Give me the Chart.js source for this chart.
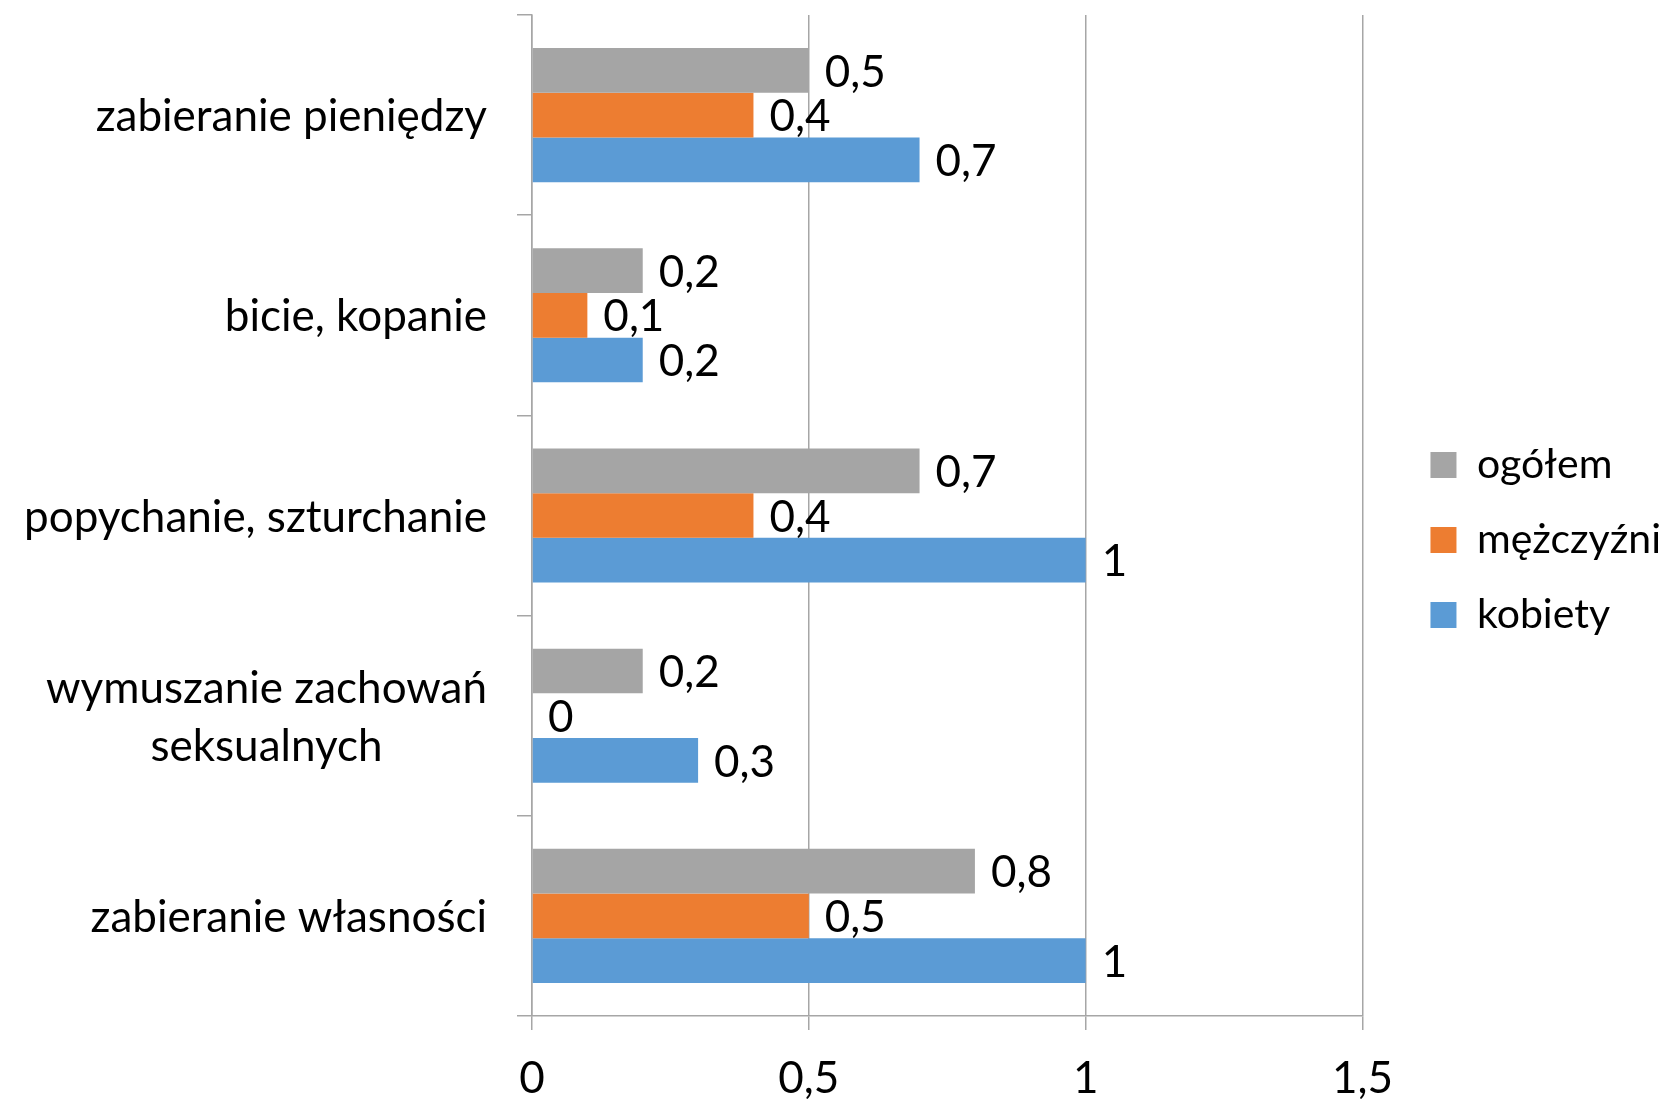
<!DOCTYPE html>
<html>
<head>
<meta charset="utf-8">
<script src="https://cdn.jsdelivr.net/npm/chart.js@4"></script>
<style>
  html, body { margin: 0; padding: 0; background: #fff; }
  #wrap { width: 1672px; height: 1100px; }
</style>
</head>
<body>
<div id="wrap"><canvas id="chart" width="1672" height="1100"></canvas></div>
<script>
// categories, top to bottom
var categories = [
    'zabieranie pieniędzy',
    'bicie, kopanie',
    'popychanie, szturchanie',
    ['wymuszanie zachowań', 'seksualnych'],
    'zabieranie własności'
];
var seriesNames = ['ogółem', 'mężczyźni', 'kobiety'];
var ogolem = [0.5, 0.2, 0.7, 0.2, 0.8];
var mezczyzni = [0.4, 0.1, 0.4, 0, 0.5];
var kobiety = [0.7, 0.2, 1, 0.3, 1];
var xTicks = [0, 0.5, 1, 1.5];

var colours = ['#a5a5a5', '#ed7d31', '#5b9bd5'];
var FONT = 'Lato';
var FSIZE = 44;
var gridColour = '#a6a6a6';

function fmt(v) {
    return String(v).replace('.', ',');
}

// value labels just past the end of each bar
var valueLabels = {
    id: 'valueLabels',
    afterDatasetsDraw: function(chart) {
        var ctx = chart.ctx;
        ctx.save();
        ctx.font = FSIZE + 'px ' + FONT;
        ctx.fillStyle = '#000';
        ctx.textAlign = 'left';
        ctx.textBaseline = 'middle';
        chart.data.datasets.forEach(function(ds, i) {
            chart.getDatasetMeta(i).data.forEach(function(bar, j) {
                ctx.fillText(fmt(ds.data[j]), bar.x + 16, bar.y + 2);
            });
        });
        ctx.restore();
    }
};

// category labels: block right-aligned, lines centred inside the block
var catLabels = {
    id: 'catLabels',
    afterDraw: function(chart) {
        var ctx = chart.ctx;
        var yScale = chart.scales.y;
        var right = chart.chartArea.left - 45;
        var lineH = 58;
        ctx.save();
        ctx.font = FSIZE + 'px ' + FONT;
        ctx.fillStyle = '#000';
        ctx.textAlign = 'center';
        ctx.textBaseline = 'middle';
        categories.forEach(function(c, i) {
            var lines = Array.isArray(c) ? c : [c];
            var w = Math.max.apply(null, lines.map(function(l) { return ctx.measureText(l).width; }));
            var cx = right - w / 2;
            var y0 = yScale.getPixelForTick(i) - (lines.length - 1) * lineH / 2;
            lines.forEach(function(l, k) {
                ctx.fillText(l, cx, y0 + k * lineH + 2);
            });
        });
        ctx.restore();
    }
};

var ctx = document.getElementById('chart').getContext('2d');
var datasets = [ogolem, mezczyzni, kobiety].map(function(d, i) {
    return {
        label: seriesNames[i],
        data: d,
        backgroundColor: colours[i],
        borderWidth: 0,
        categoryPercentage: 0.67,
        barPercentage: 1
    };
});

new Chart(ctx, {
    type: 'bar',
    data: { labels: categories, datasets: datasets },
    plugins: [valueLabels, catLabels],
    options: {
        responsive: false,
        animation: false,
        indexAxis: 'y',
        layout: { padding: { top: 15, right: 1, bottom: 0, left: 0 } },
        font: { family: FONT },
        scales: {
            x: {
                min: 0,
                max: 1.5,
                afterBuildTicks: function(axis) {
                    axis.ticks = xTicks.map(function(v) { return { value: v }; });
                },
                afterFit: function(axis) { axis.height = 84; },
                grid: { color: gridColour, lineWidth: 1.5, tickLength: 14 },
                border: { color: gridColour, width: 1.5 },
                ticks: {
                    color: '#000',
                    font: { family: FONT, size: FSIZE },
                    padding: 22,
                    callback: function(v) { return fmt(v); }
                }
            },
            y: {
                offset: true,
                afterFit: function(axis) { axis.width = 532; },
                grid: { offset: true, drawOnChartArea: false, color: gridColour, lineWidth: 1.5, tickLength: 15 },
                border: { color: gridColour, width: 1.5 },
                ticks: {
                    color: 'rgba(0,0,0,0)',
                    font: { family: FONT, size: 10 },
                    padding: 0
                }
            },
            // empty spacer between the plot and the legend
            gap: {
                type: 'linear',
                axis: 'y',
                position: 'right',
                afterFit: function(axis) { axis.width = 34; },
                grid: { display: false },
                border: { display: false },
                ticks: { display: false }
            }
        },
        plugins: {
            tooltip: { enabled: false },
            legend: {
                position: 'right',
                fullSize: false,
                title: { display: true, text: ' ', font: { size: 1 }, padding: 24 },
                labels: {
                    color: '#000',
                    font: { family: FONT, size: 41 },
                    boxWidth: 26,
                    boxHeight: 26,
                    padding: 34
                }
            }
        }
    }
});
</script>
</body>
</html>
